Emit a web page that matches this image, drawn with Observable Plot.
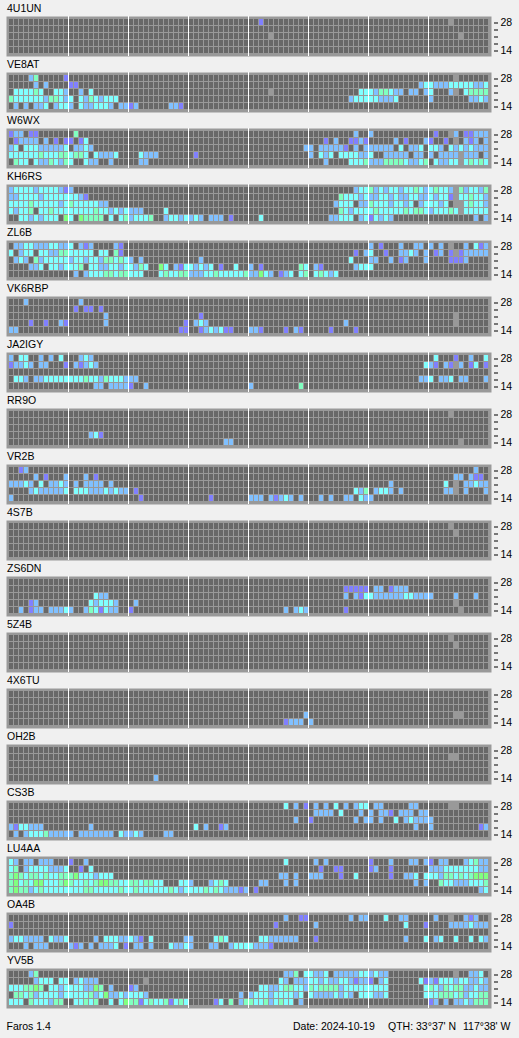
<!DOCTYPE html>
<html>
<head>
<meta charset="utf-8">
<script src="https://cdn.jsdelivr.net/npm/d3@7"></script>
<script src="https://cdn.jsdelivr.net/npm/@observablehq/plot@0.6"></script>
<style>
html,body{margin:0;padding:0;background:#f0f0f0;}
body{width:519px;height:1038px;overflow:hidden;position:relative;font:10.5px "Liberation Sans",sans-serif;color:#000;}
svg{display:block;}
.f{position:absolute;top:1020px;white-space:pre;}
</style>
</head>
<body>
<div id="chart"></div>
<span class="f" id="f0"></span>
<span class="f" id="f1"></span>
<span class="f" id="f2"></span>
<span class="f" id="f3"></span>
<script>
// Each row: "firstColumn:levels" runs; level letters: v b c m g = signal, n = no data, . = none
const stations = ["4U1UN","VE8AT","W6WX","KH6RS","ZL6B","VK6RBP","JA2IGY","RR9O","VR2B","4S7B","ZS6DN","5Z4B","4X6TU","OH2B","CS3B","LU4AA","OA4B","YV5B"];
const bands = [28,24,21,18,14];
const bandLabels = [28,14];
const levels = [".","n","v","b","c","m","g"];
const levelColours = ["#686868","#999999","#8080ff","#80c0ff","#80ffff","#80ffc0","#80ff80"];
const slots = d3.range(96);
const hourLines = [11,23,35,47,59,71,83];
const footerTexts = ["Faros 1.4","Date: 2024-10-19","QTH: 33°37' N","117°38' W"];
const footerLefts = [6.5,293,388,463];

const s4U1UN = ["50:v 88:n","","52:n 90:n","",""];
const sVE8AT = [
 "4:bm 11:v 89:n",
 "5:b 7:b 12:vv 82:bccbbbcccccbbc",
 "1:ccccmc 9:ccb 14:b 16:c 52:n 70:cccbmmcbb 80:bb 83:bc 88:bn 91:cmmmm",
 "0:mccccccbmmcbc 14:cbmcbccc 68:bcccccbbbc 84:b 92:bbcb",
 "1:b 3:b 5:bbc 9:bccb 14:cbbcccb 22:bbvb 32:bbv"];
const sW6WX = [
 "0:vbb 4:vv 13:m 69:b 72:b 85:v 88:nb 91:vvbbb",
 "1:vbbbb 7:b 9:v 11:vv 14:vc 63:v 65:b 68:vvbv 77:b 79:v 83:bv 87:v 89:n 91:bvb 95:b",
 "0:bc 3:cccbbbbbc 13:bbcb 59:bb 62:bbbbbv 69:b 71:bbbbbb 78:c 80:bbc 84:ccb 88:cbcbcbbb",
 "0:ccccccmcccmmcmmc 17:cbbbc 26:cbbb 37:v 60:b 62:cbc 66:cc 68:ccbbc 75:bbbbb 81:bb 84:b 86:bbbb 90:n 91:bbb 95:b",
 "1:mcc 5:cbbmcbmc 15:cbb 20:b 26:bb 63:b 68:cccmbbbmmmmcbbcm 85:cbbccncmcmc"];
const sKH6RS = [
 "0:bccccbccccbvb 69:bccmbcbccbccmcbcmccb 89:nmbccbm",
 "0:bbccccbcccccccbv 66:mc 68:ccbcbbccbcbbccbbcbccvnccmccb",
 "0:ccccmcccccbcmcccccbb 65:bcc 68:c 70:bbmcccbccbc 82:bcccbc 89:nn 91:cmccb",
 "0:cbccm 6:ccmccccccccmccbcbcbbb 31:c 66:mc 68:bccc 72:cmcccccmcmmcbcccmcnccccc",
 "2:ccbcbccc 11:gc 14:gmmmm 20:c 22:cmbcccm 31:bccbcbcb 40:bbb 44:v 50:c 64:bbccc 70:bcvcbcb 93:b 95:b"];
const sZL6B = [
 "1:bbccbbbccbbc 14:bvb 21:bv 72:b 74:v 78:b 81:bb 84:b 86:b 88:n 91:b 93:cvb",
 "0:c 2:bcc 6:ccbbmmccccc 18:cc 21:mv 69:v 71:bc 75:v 78:bbcb 83:b 85:vb 88:vnvbbbbb",
 "1:bcb 5:mbcccccbccbccbmmcmcb 26:b 38:b 68:c 72:bb 76:b 78:vb 83:b 88:vvvb",
 "4:bbc 8:ccbcccm 16:ccbbccbccbmc 30:gc 33:bvccbcbc 42:v 45:c 48:b 50:v 58:mc 61:bv 69:bccc",
 "13:b 15:bcccmmcmmccc 30:cmccmmbbbccmcccccmbbgcb 54:vbc 58:cm 61:cmcbc"];
const sVK6RBP = [
 "3:b 14:b",
 "13:v 15:vv 18:v",
 "19:b 38:v 89:n",
 "4:v 7:v 10:bv 19:b 35:v 37:bcb 67:b 89:n",
 "0:bb 34:vv 38:vbcbcvv 48:bbv 55:v 57:bv 64:v 69:v"];
const sJA2IGY = [
 "0:b 2:cc 6:b 8:b 10:c 14:bcb 85:c 89:v 92:b 95:c",
 "0:vbbcb 6:bb 11:v 13:bvbcb 83:cbv 87:bvnb 92:vc 95:v",
 "",
 "1:ccb 5:bbccccccccmccbmcccbbb 82:bbc 86:bbc 90:bb 95:b",
 "17:bb 20:bbbbv 27:b 48:b 58:m"];
const sRR9O = ["88:n","","","16:bcv","43:bb 90:n"];
const sVR2B = [
 "2:vb 93:b",
 "5:b 7:v 11:b 15:b 17:v 89:bb 92:bvv",
 "0:bbbcb 6:c 8:bbcb 13:b 15:bbbb 20:b 76:b 87:c 89:n 91:bbcbb",
 "4:bcbbbbbc 13:cccbbbcbcbb 25:v 69:cbm 73:bccb 78:b 87:bbn 91:b 95:b",
 "0:b 26:v 40:v 48:bbb 52:bvbcb 58:b 62:b 64:b 67:bb 70:cbb"];
const s4S7B = ["88:n","89:n","","",""];
const sZS6DN = [
 "",
 "67:vvvvv 73:bb 76:vbbb",
 "17:cbb 67:b 69:bvccbbbbbbccbbbb 89:b 93:b",
 "4:vb 16:cbcccb 25:b 89:n",
 "2:b 4:vbb 8:bbbcb 15:bmcvcbb 24:v 55:b 57:bcb 67:v 90:n"];
const s5Z4B = ["88:n","89:n","","",""];
const s4X6TU = ["","","","59:b 89:nn","55:vbbb 60:b"];
const sOH2B = ["","88:nn","","","29:b"];
const sCS3B = [
 "55:c 57:b 59:v 61:b 63:b 65:c 67:b 69:bcc 73:bb 80:bb 88:nn",
 "61:bbbb 66:c 70:b 72:b 74:bbv 78:bbb 82:bb",
 "57:b 60:v 69:b 71:bb 74:b 77:c 79:bcbbbb",
 "0:bvccbbb 16:b 37:c 39:b 42:vb 81:b 84:b 94:vb",
 "1:b 3:bcccmbbbbb 14:bbbbbbb 22:cbbcb 31:bb"];
const sLU4AA = [
 "0:cb 3:bb 6:bbb 12:v 15:b 55:c 61:b 63:b 72:v 76:b 80:bb 83:bv 86:bb 91:bcmbb",
 "0:cm 3:bccccbbbc 14:v 16:c 62:v 65:vv 72:vb 76:v 84:bbbcccccccbb",
 "0:mgmcmmcmccmmmgcccbccc 54:bb 57:b 60:bbb 66:v 69:c 76:v 79:bbc 83:cccbmmcmcmggg",
 "0:mgcmcggcccmgmccmcmggmmccmmcmmcc 34:ccb 40:bcmc 50:bb 55:b 57:b 81:b 83:b 86:mccbbbcccm",
 "0:mgmmbcmccccccccmmcccccmccmccccccm 33:cbccccmcmcbbbvb 49:v 94:bc"];
const sOA4B = [
 "55:b 58:vv 68:b 70:bb 75:c 78:bb 85:b 88:n 91:bvb",
 "0:v 53:v 61:b 79:c 83:v 88:bbbbcbbb",
 "",
 "0:bccbbbb 8:cbbc 17:b 19:cccbbcbv 28:c 35:bb 41:cmc 50:ccbbbbbb 61:v 79:b 83:c 85:bc 89:c 92:c 94:cb",
 "3:b 5:bbb 12:bvb 16:b 18:bbbc 23:v 25:bb 28:b 32:cbbcb 40:bb 44:bccccbbbv"];
const sYV5B = [
 "4:bm 55:bbm 59:ccbbc 65:bbb 68:bbcc 72:bcbb 89:n 92:bbc",
 "5:bccc 10:cc 13:bcbbb 27:n 54:cb 57:bbb 60:ccbcbb 66:cc 68:bvbbv 74:bc 82:cvbvcccbccbbcb",
 "0:cccmmgm 8:ccbccccbbgm 20:b 24:vb 50:ccbbcmmccbmcmmmmbc 68:cccccccc 83:cmcbmcmmbbcbb",
 "1:mmcmbccccbcccccmbcgbbcbcccb 46:b 48:bcccbccccbc 60:cbbbbcbc 68:b 70:cccbbc 83:cccmmmcmbccmm",
 "0:ccc 4:mcccbmm 13:ccmcm 20:c 22:cgmmvcmccmvcmc 41:vc 44:m 46:bmmccmbcmcc 58:b 84:vb 87:b 89:bbcbmmm"];

const series = [s4U1UN,sVE8AT,sW6WX,sKH6RS,sZL6B,sVK6RBP,sJA2IGY,sRR9O,sVR2B,s4S7B,sZS6DN,s5Z4B,s4X6TU,sOH2B,sCS3B,sLU4AA,sOA4B,sYV5B];

const cells = [];
series.forEach((rows, p) => rows.forEach((text, r) => {
  const line = slots.map(() => ".");
  text.split(" ").filter(Boolean).forEach(run => {
    const [start, letters] = run.split(":");
    [...letters].forEach((l, k) => { line[+start + k] = l; });
  });
  line.forEach((level, slot) => cells.push({station: stations[p], band: bands[r], slot, level}));
}));

const chart = Plot.plot({
  width: 519,
  height: 1012,
  marginLeft: 6,
  marginRight: 28,
  marginTop: 16,
  marginBottom: 4,
  style: {background: "transparent", fontFamily: "'Liberation Sans',sans-serif", fontSize: "10.5px", color: "#000"},
  x: {type: "band", domain: slots, range: [9, 489], padding: 0, round: false, axis: null},
  y: {type: "band", domain: bands, range: [19, 54], padding: 0, round: false, axis: null},
  fy: {domain: stations, paddingInner: 16/56, paddingOuter: 0, round: false, axis: null},
  color: {type: "ordinal", domain: levels, range: levelColours},
  marks: [
    Plot.frame({fill: "#999999", stroke: null}),
    Plot.cell(cells, {x: "slot", y: "band", fy: "station", fill: "level", insetRight: 1, insetBottom: 1}),
    Plot.ruleX(hourLines, {x: d => d, dx: 1.5, stroke: "#ffffff", strokeWidth: 1}),
    Plot.axisY(bands, {anchor: "right", tickSize: 4, tickPadding: 3, dx: 2, stroke: "#000", fill: "#000",
      tickFormat: d => bandLabels.includes(d) ? d : "", label: null}),
    Plot.text(stations, {text: d => d, fy: d => d, frameAnchor: "top-left", lineAnchor: "bottom", dx: 0.5, dy: -5, fill: "#000"})
  ]
});
document.getElementById("chart").append(chart);
footerTexts.forEach((t, i) => {
  const el = document.getElementById("f" + i);
  el.textContent = t;
  el.style.left = footerLefts[i] + "px";
});
</script>
</body>
</html>
